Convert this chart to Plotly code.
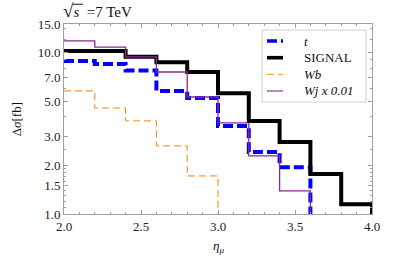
import plotly.graph_objects as go

# bin edges in eta_mu
edges = [2.0, 2.2, 2.4, 2.6, 2.8, 3.0, 3.2, 3.4, 3.6, 3.8, 4.0]

# per-bin values (fb); 0 = empty bin (below plotted range)
t_vals = [8.86, 8.49, 7.74, 5.78, 5.23, 3.51, 2.42, 1.95, 0, 0]
signal_vals = [10.2, 10.2, 9.4, 8.7, 7.57, 5.6, 3.77, 2.79, 1.77, 1.15]
wb_vals = [5.78, 4.53, 3.77, 2.64, 1.72, 0, 0, 0, 0, 0]
wj_vals = [11.8, 10.8, 9.4, 7.57, 5.3, 3.66, 2.29, 1.39, 0, 0]

series_names = ["<i>t</i>", "SIGNAL", "<i>Wb</i>", "<i>Wj x 0.01</i>"]

ytick_vals = [1.0, 1.5, 2.0, 3.0, 5.0, 7.0, 10.0, 15.0]
ytick_text = ["1.0", "1.5", "2.0", "3.0", "5.0", "7.0", "10.0", "15.0"]
ymin_tick = [1.1, 1.2, 1.3, 1.4, 1.6, 1.7, 1.8, 1.9, 2.5, 4.0, 6.0, 8.0, 9.0, 12.0, 14.0]
xtick_vals = [2.0, 2.5, 3.0, 3.5, 4.0]
xtick_text = ["2.0", "2.5", "3.0", "3.5", "4.0"]

FLOOR = 1e-3
FONT = "Liberation Serif"


def steps(vals):
    ys = [v if v > 0 else FLOOR for v in vals] + [FLOOR]
    return list(edges), ys


styles = [
    dict(color="rgb(0,0,255)", width=4, dash="10px,4px"),
    dict(color="black", width=4),
    dict(color="rgb(255,128,0)", width=1, dash="7px,4px"),
    dict(color="rgb(140,40,150)", width=1.3),
]
all_vals = [t_vals, signal_vals, wb_vals, wj_vals]

fig = go.Figure()
for name, vals, line in zip(series_names, all_vals, styles):
    x, y = steps(vals)
    fig.add_trace(go.Scatter(x=x, y=y, mode="lines", name=name,
                             line=dict(shape="hv", **line), showlegend=False))

axis_common = dict(
    showline=True, linecolor="#a0a0a0", linewidth=1, mirror="ticks",
    ticks="inside", tickcolor="#a0a0a0", ticklen=4, showgrid=False,
    zeroline=False, automargin=False,
    tickfont=dict(family=FONT, size=13, color="#222"),
)
fig.update_xaxes(range=[2, 4], tickvals=xtick_vals, ticktext=xtick_text,
                 minor=dict(dtick=0.1, tick0=2.0, ticks="inside", ticklen=2,
                            tickcolor="#a0a0a0"),
                 **axis_common)
fig.update_yaxes(type="log", range=[0, 1.17609], tickvals=ytick_vals,
                 ticktext=ytick_text,
                 minor=dict(tickvals=ymin_tick, ticks="inside", ticklen=2,
                            tickcolor="#a0a0a0"),
                 **axis_common)

# ---- hand-drawn legend (paper coordinates) ----
shapes = [dict(type="rect", xref="paper", yref="paper",
               x0=0.643, x1=0.9805, y0=0.5895, y1=0.9684,
               line=dict(color="#d0d0d0", width=1), fillcolor="white",
               layer="above")]
annotations = []
leg_y = [0.9105, 0.8226, 0.7353, 0.6474]
for name, line, yy in zip(series_names, styles, leg_y):
    shapes.append(dict(type="line", xref="paper", yref="paper",
                       x0=0.659, x1=0.711, y0=yy, y1=yy, layer="above",
                       line=dict(color=line["color"], width=line["width"] * 0.9,
                                 dash=line.get("dash", "solid"))))
    annotations.append(dict(text=name, xref="paper", yref="paper",
                            x=0.7727, y=yy, xanchor="left", yanchor="middle",
                            showarrow=False,
                            font=dict(family=FONT, size=13, color="#111")))

# radical bar over the "s" of the title
shapes.append(dict(type="line", xref="paper", yref="paper",
                   x0=0.029, x1=0.062, y0=1.104, y1=1.104,
                   line=dict(color="#111", width=1)))

annotations += [
    dict(text="<span style='font-size:19px'>√</span><i>s</i>&nbsp; =7 TeV",
         xref="paper", yref="paper", x=-0.0065, y=1.0105, xanchor="left",
         yanchor="bottom", showarrow=False, borderpad=0,
         font=dict(family=FONT, size=15, color="#111")),
    dict(text="Δ<i>σ</i>[fb]", xref="paper", yref="paper",
         x=-0.155, y=0.5, textangle=-90, showarrow=False,
         xanchor="center", yanchor="middle",
         font=dict(family=FONT, size=13, color="#111")),
    dict(text="<i>η</i><sub><i>μ</i></sub>", xref="paper", yref="paper",
         x=0.5, y=-0.17, xanchor="center", yanchor="middle", showarrow=False,
         font=dict(family=FONT, size=13, color="#111")),
]

fig.update_layout(
    width=415, height=276,
    margin=dict(l=64, r=43, t=24, b=62),
    plot_bgcolor="white", paper_bgcolor="white",
    font=dict(family=FONT, size=13, color="#111"),
    showlegend=False,
    shapes=shapes,
    annotations=annotations,
)

# remove the browser's default 8px body margin so the figure fills the window
fig.write_html("out.html", config={"displayModeBar": False},
               post_script="document.body.style.margin='0';")
